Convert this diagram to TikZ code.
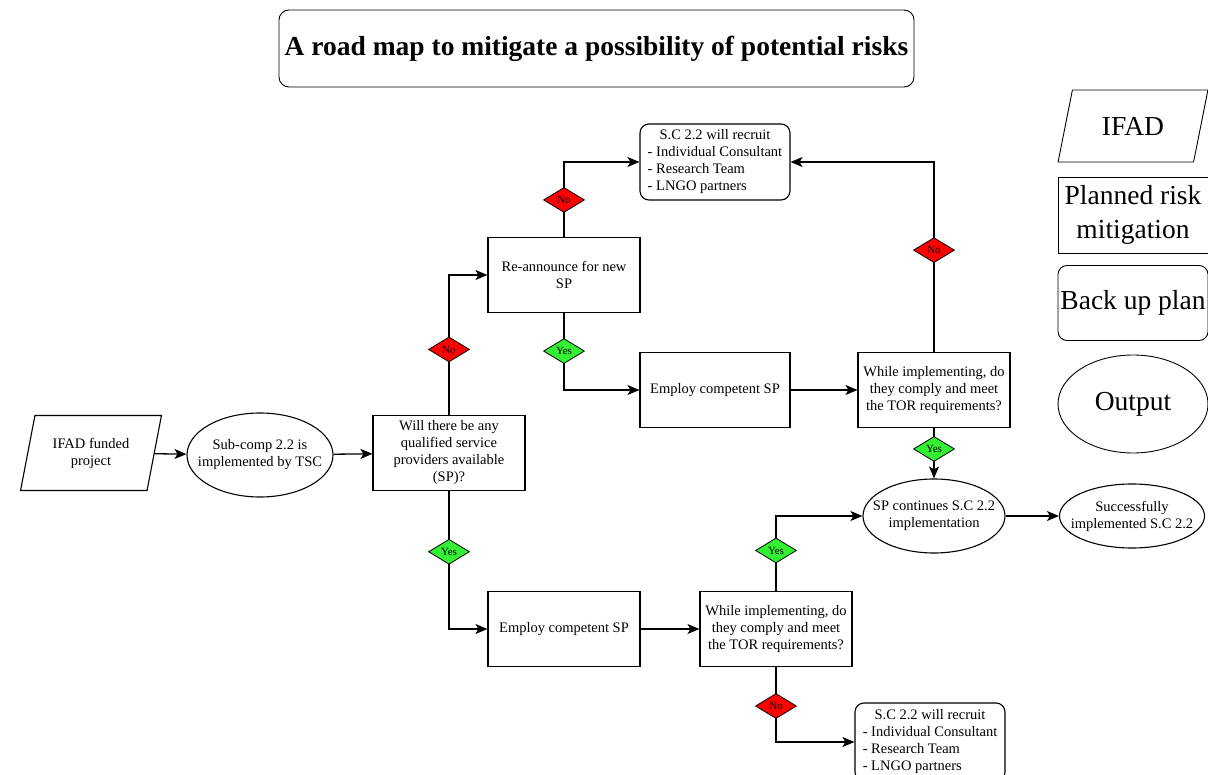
\documentclass[tikz,border=0pt]{standalone}
\usepackage{fontspec}
\setmainfont{Liberation Serif}
\usetikzlibrary{shapes.geometric,arrows.meta}
\tikzset{
  txt/.style={font=\fontsize{14.5}{17}\selectfont},
  procbox/.style={draw, line width=1.1pt, txt, align=center, inner sep=2pt,
    minimum width=152pt, minimum height=75pt},
  backbox/.style={procbox, rounded corners=9pt, minimum width=150pt},
  outell/.style={ellipse, draw, line width=1.1pt, txt, align=center, inner ysep=0pt,
    inner xsep=-11pt},
  inpara/.style={trapezium, trapezium left angle=72, trapezium right angle=108,
    trapezium stretches=true, draw, line width=1.1pt, txt, align=center, inner sep=0pt},
  nochk/.style={diamond, draw, line width=0.8pt, fill=red, inner sep=0pt,
    minimum width=41pt, minimum height=25pt, font=\fontsize{11}{11}\selectfont},
  yeschk/.style={nochk, fill=chkgreen},
  arr/.style={-{Stealth[length=12pt,width=10pt,inset=3pt]}, line width=1.3pt},
  legend/.style={font=\fontsize{27.5}{34}\selectfont, line width=0.9pt}
}
\definecolor{chkgreen}{RGB}{51,240,51}
\begin{document}
\begin{tikzpicture}[x=1pt,y=-1pt]
\useasboundingbox (0,0) rectangle (1208,775);
% title
\node[draw, line width=0.9pt, rounded corners=10pt, minimum width=635pt, minimum height=77pt,
  font=\fontsize{27.5}{30}\selectfont\bfseries] (title) at (596.5,48.5)
  {A road map to mitigate a possibility of potential risks};
% legend
\node[inpara, legend, minimum width=150pt, minimum height=72pt, trapezium left angle=68,
  trapezium right angle=112] (lifad) at (1133,126) {IFAD};
\node[procbox, legend, minimum width=150pt, minimum height=76pt] (lrisk) at (1133,215)
  {Planned risk\\mitigation};
\node[backbox, legend, minimum width=150pt, minimum height=75pt] (lback) at (1133,303)
  {Back up plan};
\node[outell, legend, inner xsep=0pt, minimum width=150pt, minimum height=98pt] (lout) at (1133,404) {Output};
% main flow
\node[inpara, minimum width=142pt, minimum height=75pt] (ifad) at (91,453) {IFAD funded\\project};
\node[outell, minimum width=146pt, minimum height=84pt] (subcomp) at (260,455)
  {Sub-comp 2.2 is\\implemented by TSC};
\node[procbox] (will) at (449,453)
  {Will there be any\\qualified service\\providers available\\(SP)?};
\node[procbox] (reann) at (564,275) {Re-announce for new\\SP};
\node[backbox, minimum height=76pt] (recruitT) at (715,162)
  {\begin{tabular}{@{}l@{}}\multicolumn{1}{@{}c@{}}{S.C 2.2 will recruit}\\- Individual Consultant\\- Research Team\\- LNGO partners\end{tabular}};
\node[procbox, minimum width=150pt] (employT) at (715,390) {Employ competent SP};
\node[procbox] (whileT) at (934,390)
  {While implementing, do\\they comply and meet\\the TOR requirements?};
\node[outell, minimum width=142pt, minimum height=74pt] (spcont) at (934,516)
  {SP continues S.C 2.2\\implementation};
\node[outell, minimum width=145pt, minimum height=64pt] (success) at (1132,516)
  {Successfully\\implemented S.C 2.2};
\node[procbox] (employB) at (564,629) {Employ competent SP};
\node[procbox] (whileB) at (776,629)
  {While implementing, do\\they comply and meet\\the TOR requirements?};
\node[backbox, minimum height=78pt] (recruitB) at (930,742)
  {\begin{tabular}{@{}l@{}}\multicolumn{1}{@{}c@{}}{S.C 2.2 will recruit}\\- Individual Consultant\\- Research Team\\- LNGO partners\end{tabular}};
% connectors
\draw[arr] (ifad) -- (subcomp);
\draw[arr] (subcomp) -- (will);
\draw[arr] (will.north) |- node[nochk, pos=0.234] (no1) {No} (reann.west);
\draw[arr] (reann.north) |- node[nochk, pos=0.247] (no2) {No} (recruitT.west);
\draw[arr] (reann.south) |- node[yeschk, pos=0.247] (yes1) {Yes} (employT.west);
\draw[arr] (employT) -- (whileT);
\draw[arr] (whileT.north) |- node[nochk, pos=0.268] (no3) {No} (recruitT.east);
\draw[arr] (whileT.south) -- node[yeschk, pos=0.415] (yes2) {Yes} (spcont.north);
\draw[arr] (spcont) -- (success);
\draw[arr] (will.south) |- node[yeschk, pos=0.22] (yes3) {Yes} (employB.west);
\draw[arr] (employB) -- (whileB);
\draw[arr] (whileB.north) |- node[yeschk, pos=0.27] (yes4) {Yes} (spcont.west);
\draw[arr] (whileB.south) |- node[nochk, pos=0.26] (no4) {No} (recruitB.west);
\end{tikzpicture}
\end{document}
